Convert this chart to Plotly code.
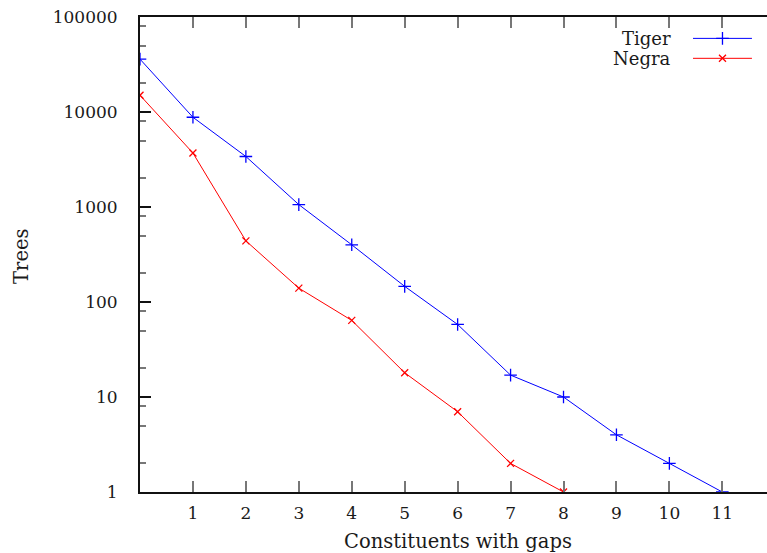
import plotly.graph_objects as go

# ---- data ----
gaps = [0, 1, 2, 3, 4, 5, 6, 7, 8, 9, 10, 11]
tiger = [36000, 8800, 3400, 1060, 400, 146, 58, 17, 10, 4, 2, 1]
negra_x = [0, 1, 2, 3, 4, 5, 6, 7, 8]
negra = [15000, 3700, 440, 140, 64, 18, 7, 2, 1]
series_names = ["Tiger", "Negra"]
x_tick_vals = [1, 2, 3, 4, 5, 6, 7, 8, 9, 10, 11]
y_tick_vals = [1, 10, 100, 1000, 10000, 100000]
y_tick_text = ["1", "10", "100", "1000", "10000", "100000"]
y_minor_vals = [m * 10 ** d for d in range(0, 5) for m in (2, 5, 8)]
x_title = "Constituents with gaps"
y_title = "Trees"

FONT = "DejaVu Serif"
BLUE = "#0000ff"
RED = "#ff0000"
TXT = "#1a1a1a"

fig = go.Figure()

fig.add_trace(go.Scatter(
    x=gaps, y=tiger, mode="lines+markers", name=series_names[0],
    line=dict(color=BLUE, width=1),
    marker=dict(symbol="cross-thin", size=9, line=dict(color=BLUE, width=1.3)),
    showlegend=False,
))
fig.add_trace(go.Scatter(
    x=negra_x, y=negra, mode="lines+markers", name=series_names[1],
    line=dict(color=RED, width=1),
    marker=dict(symbol="x-thin", size=7, line=dict(color=RED, width=1.3)),
    showlegend=False,
))

# gnuplot-style key: text right-aligned, sample to its right (overlay axes 0..1)
key_rows = [(0.955, series_names[0], BLUE, "cross-thin", 9),
            (0.913, series_names[1], RED, "x-thin", 7)]
for yy, name, col, sym, sz in key_rows:
    fig.add_trace(go.Scatter(
        x=[0.882, 0.976], y=[yy, yy], xaxis="x2", yaxis="y2", mode="lines",
        line=dict(color=col, width=1), showlegend=False, hoverinfo="skip"))
    fig.add_trace(go.Scatter(
        x=[0.929], y=[yy], xaxis="x2", yaxis="y2", mode="markers",
        marker=dict(symbol=sym, size=sz, line=dict(color=col, width=1.3)),
        showlegend=False, hoverinfo="skip", cliponaxis=False))
    fig.add_annotation(x=0.85, y=yy, xref="x2", yref="y2", text=name,
                       showarrow=False, xanchor="right", yanchor="middle",
                       font=dict(family=FONT, size=18, color=TXT))

# axis titles placed like gnuplot's labels
fig.add_annotation(x=0.5064, y=-0.104, xref="paper", yref="paper", text=x_title,
                   showarrow=False, xanchor="center", yanchor="middle",
                   font=dict(family=FONT, size=19.5, color=TXT))
fig.add_annotation(x=-0.189, y=0.496, xref="paper", yref="paper", text=y_title,
                   showarrow=False, xanchor="center", yanchor="middle",
                   textangle=-90, font=dict(family=FONT, size=19.5, color=TXT))

fig.update_layout(
    width=767, height=553, autosize=False,
    margin=dict(l=140, r=0, t=17, b=60.5),
    plot_bgcolor="white", paper_bgcolor="white",
    font=dict(family=FONT, color=TXT),
    xaxis=dict(
        range=[0, 11.844], tickvals=x_tick_vals, automargin=False,
        ticks="inside", ticklen=11, tickwidth=1.5, tickcolor="#777777",
        showline=True, linecolor="#111111", linewidth=1.5, mirror="ticks",
        showgrid=False, zeroline=False,
        tickfont=dict(family=FONT, size=17, color=TXT),
        ticklabelstandoff=5,
    ),
    yaxis=dict(
        type="log", range=[0, 5], tickvals=y_tick_vals, ticktext=y_tick_text,
        automargin=False,
        ticks="inside", ticklen=11, tickwidth=1.5, tickcolor="#111111",
        showline=True, linecolor="#111111", linewidth=2,
        showgrid=False, zeroline=False,
        minor=dict(tickvals=y_minor_vals, ticks="inside", ticklen=6,
                   tickwidth=1.5, tickcolor="#777777", showgrid=False),
        tickfont=dict(family=FONT, size=17, color=TXT),
        ticklabelstandoff=17,
    ),
    xaxis2=dict(overlaying="x", range=[0, 1], visible=False, fixedrange=True),
    yaxis2=dict(overlaying="y", range=[0, 1], visible=False, fixedrange=True),
)

fig.write_html(
    "out.html",
    config={"displayModeBar": False},
    post_script="document.body.style.margin='0px';"
                "document.body.style.overflow='hidden';",
)
